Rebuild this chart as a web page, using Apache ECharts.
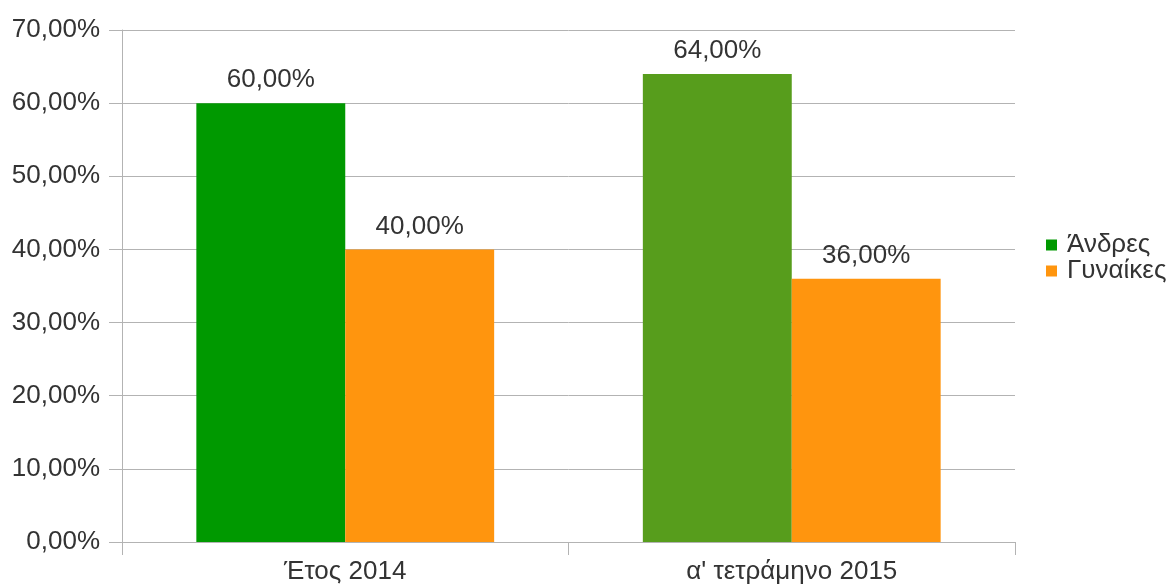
<!DOCTYPE html>
<html><head><meta charset="utf-8">
<script src="https://cdn.jsdelivr.net/npm/echarts@6/dist/echarts.min.js"></script>
<style>html,body{margin:0;padding:0;background:#fff}#c{width:1174px;height:588px}</style>
</head><body><div id="c"></div>
<script>
const categories = ['Έτος 2014', "α' τετράμηνο 2015"];
const seriesNames = ['Άνδρες', 'Γυναίκες'];
const men = [60, 64];
const women = [40, 36];
const yTicks = [0, 10, 20, 30, 40, 50, 60, 70];

const fmt = v => Number(v).toFixed(2).replace('.', ',') + '%';
const FONT = 'Liberation Sans';
const menColors = ['#009900', '#579d1c'];
const chart = echarts.init(document.getElementById('c'), null, {renderer: 'canvas'});
chart.setOption({
  animation: false,
  backgroundColor: '#ffffff',
  textStyle: {fontFamily: FONT},
  grid: {left: 122, right: 159, top: 30, bottom: 46, containLabel: false},
  legend: {
    orient: 'vertical', left: 1046, top: 232, padding: 0,
    itemWidth: 11, itemHeight: 11, itemGap: 0, icon: 'rect',
    textStyle: {fontFamily: FONT, fontSize: 26, lineHeight: 23, color: '#333333', padding: [0, 0, 0, 5]},
    data: seriesNames
  },
  xAxis: {
    type: 'category', data: categories,
    axisLine: {show: true, lineStyle: {color: '#b3b3b3', width: 1}},
    axisTick: {show: true, length: 13, alignWithLabel: false, lineStyle: {color: '#b3b3b3'}},
    axisLabel: {fontFamily: FONT, fontSize: 26, color: '#333333', margin: 17}
  },
  yAxis: {
    type: 'value', min: yTicks[0], max: yTicks[yTicks.length - 1], interval: 10,
    axisLine: {show: true, lineStyle: {color: '#b3b3b3', width: 1}},
    axisTick: {show: true, length: 13, lineStyle: {color: '#b3b3b3'}},
    splitLine: {show: true, lineStyle: {color: '#b3b3b3', width: 1}},
    axisLabel: {fontFamily: FONT, fontSize: 26, color: '#333333', margin: 22, formatter: fmt}
  },
  series: [
    {
      name: seriesNames[0], type: 'bar', barGap: '0%', barCategoryGap: '33.3%',
      itemStyle: {color: menColors[0]},
      data: men.map((v, i) => ({value: v, itemStyle: {color: menColors[i]}})),
      label: {show: true, position: 'top', distance: 10, fontFamily: FONT, fontSize: 26, color: '#333333', formatter: p => fmt(p.value)}
    },
    {
      name: seriesNames[1], type: 'bar', barGap: '0%', barCategoryGap: '33.3%',
      itemStyle: {color: '#ff950e'},
      data: women,
      label: {show: true, position: 'top', distance: 10, fontFamily: FONT, fontSize: 26, color: '#333333', formatter: p => fmt(p.value)}
    }
  ]
});
</script></body></html>
